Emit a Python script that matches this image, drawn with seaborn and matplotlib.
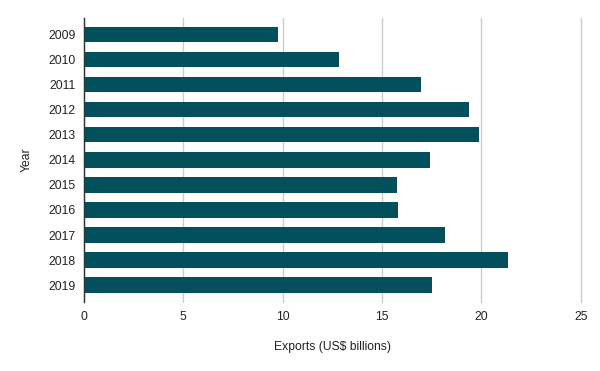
import numpy as np
import pandas as pd
import matplotlib
matplotlib.use("Agg")
import matplotlib.pyplot as plt
import seaborn as sns

# data
years = ["2009", "2010", "2011", "2012", "2013", "2014",
         "2015", "2016", "2017", "2018", "2019"]
exports = [9.78, 12.83, 16.95, 19.37, 19.87, 17.41,
           15.75, 15.80, 18.16, 21.33, 17.51]

BAR_COLOR = "#02505c"

sns.set_theme(style="white")
plt.rcParams['font.family'] = ['Liberation Sans', 'DejaVu Sans']

df = pd.DataFrame({"Year": years, "Exports": exports})

fig = plt.figure(figsize=(6, 3.71), dpi=100)
ax = fig.add_axes([0.14, 0.187, 0.828, 0.764])

sns.barplot(data=df, y="Year", x="Exports", orient="h", color=BAR_COLOR,
            saturation=1, width=0.61, ax=ax, zorder=2, linewidth=0)

ax.set_xlim(0, 25)
ax.set_ylim(10.66, -0.66)
ax.set_xticks([0, 5, 10, 15, 20, 25])
ax.xaxis.grid(True, color="#cccccc", linewidth=1, zorder=0)
for gl in ax.get_xgridlines():
    gl.set_clip_on(False)
ax.set_axisbelow(True)

for side in ["top", "right", "bottom"]:
    ax.spines[side].set_visible(False)
ax.spines["left"].set_color("#333333")
ax.spines["left"].set_linewidth(1)
ax.spines["left"].set_zorder(3)

ax.tick_params(axis="both", length=0, labelsize=8.7, colors="#222222")
ax.tick_params(axis="x", pad=7)
ax.tick_params(axis="y", pad=6)

ax.set_xlabel("Exports (US$ billions)", fontsize=8.7, color="#222222", labelpad=13)
ax.set_ylabel("Year", fontsize=8.7, color="#222222", labelpad=11)

fig.savefig("out.png", dpi=100)
